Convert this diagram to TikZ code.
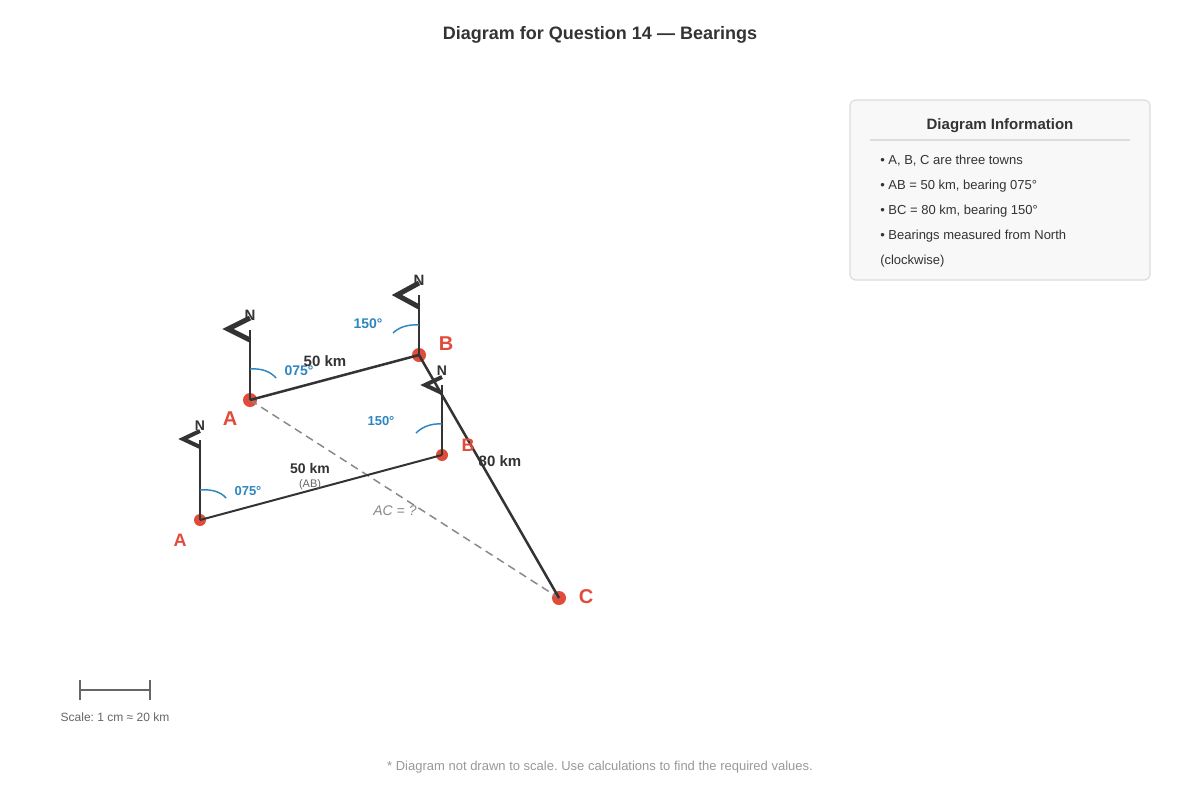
\documentclass[tikz,border=0pt]{standalone}
\usepackage{fontspec}
\setmainfont{Liberation Sans}
\frenchspacing
\definecolor{dark}{HTML}{333333}
\definecolor{ptred}{HTML}{E04B3A}
\definecolor{angblue}{HTML}{2E86C1}
\definecolor{midgray}{HTML}{888888}
\definecolor{boxfill}{HTML}{F8F8F8}
\definecolor{boxline}{HTML}{DDDDDD}
\definecolor{scalegray}{HTML}{666666}
\definecolor{footgray}{HTML}{999999}
\begin{document}
\begin{tikzpicture}[x=0.75pt,y=-0.75pt,
  town/.style={circle,fill=ptred,inner sep=0pt,minimum size=#1*0.75pt},
  townlbl/.style={text=ptred,font=\bfseries\fontsize{#1}{#1}\selectfont,inner sep=0pt},
  seg/.style={draw=dark,line width=#1*0.75pt},
  nline/.style={draw=dark,line width=#1*0.75pt},
  chev/.style={draw=dark,line width=#1*0.75pt,miter limit=10},
  nlbl/.style={text=dark,font=\bfseries\fontsize{#1}{#1}\selectfont,inner sep=0pt},
  ang/.style={draw=angblue,line width=1.1pt},
  anglbl/.style={text=angblue,font=\bfseries\fontsize{#1}{#1}\selectfont,inner sep=0pt},
  distlbl/.style={text=dark,font=\bfseries\fontsize{#1}{#1}\selectfont,inner sep=0pt},
  infotxt/.style={text=dark,font=\fontsize{9.75}{12}\selectfont,anchor=west,inner sep=0pt}
]
\useasboundingbox[fill=white] (0,0) rectangle (1200,800);

% title
\node[text=dark,font=\bfseries\fontsize{13.5}{16}\selectfont] (title) at (600,35) {Diagram for Question 14 — Bearings};

% towns
\node[town=14] (A) at (250,400) {};
\node[town=14] (B) at (419,355) {};
\node[town=14] (C) at (559,598) {};
\node[town=12] (a2) at (200,520) {};
\node[town=12] (b2) at (442,455) {};

% north line tops
\coordinate (nA) at (250,330);
\coordinate (nB) at (419,295);
\coordinate (na2) at (200,440);
\coordinate (nb2) at (442,385);

% lines
\draw[draw=midgray,line width=1.1pt,dash pattern=on 6pt off 4pt] (A.center) -- (C.center);
\draw[nline=2.5] (A.center) -- (nA);
\draw[nline=2.5] (B.center) -- (nB);
\draw[nline=2] (a2.center) -- (na2);
\draw[nline=2] (b2.center) -- (nb2);
\draw[seg=2.5] (A.center) -- (B.center);
\draw[seg=2.5] (B.center) -- (C.center);
\draw[seg=2] (a2.center) -- (b2.center);

% chevrons
\draw[chev=5] (250,318) -- (228,329) -- (250,340);
\draw[chev=5] (419,283) -- (397,295) -- (419,307);
\draw[chev=4] (200,431) -- (183,439) -- (200,447);
\draw[chev=4] (442,377) -- (425,385) -- (442,393);

% N labels
\node[nlbl=11.25] (NA) at (250,315) {N};
\node[nlbl=11.25] (NB) at (419,280) {N};
\node[nlbl=10.5] (Na2) at (200,426) {N};
\node[nlbl=10.5] (Nb2) at (442,371) {N};

% angle arcs
\draw[ang] (250,369) .. controls (262,368) and (271,372) .. (276,378);
\draw[ang] (419,325) .. controls (407,324) and (398,328) .. (393,333);
\draw[ang] (442,424) .. controls (430,423) and (421,428) .. (416,433);
\draw[ang] (200,490) .. controls (212,489) and (221,492) .. (226,498);

% angle labels
\node[anglbl=10.5] (angA) at (299,371) {075°};
\node[anglbl=10.5] (angB) at (368,324) {150°};
\node[anglbl=9.75] (angb2) at (381,421) {150°};
\node[anglbl=9.75] (anga2) at (248,491) {075°};

% distance labels
\node[distlbl=11.25] (dAB) at (325,361) {50 km};
\node[distlbl=10.5] (dab2) at (310,468) {50 km};
\node[text=scalegray,font=\fontsize{8.25}{10}\selectfont,inner sep=0pt] (ab2note) at (310,485) {(AB)};
\node[distlbl=11.25] (dBC) at (500,461) {80 km};
\node[text=midgray,font=\itshape\fontsize{10.5}{12}\selectfont,inner sep=0pt] (dAC) at (395,511) {AC = ?};

% town labels
\node[townlbl=15] (lA) at (230,419) {A};
\node[townlbl=15] (lB) at (446,344) {B};
\node[townlbl=15] (lC) at (586,597) {C};
\node[townlbl=13.5] (la2) at (180,540) {A};
\node[townlbl=13.5] (lb2) at (468,445) {B};

% info box
\draw[fill=boxfill,draw=boxline,line width=0.9pt,rounded corners=4pt] (850,100) rectangle (1150,280);
\node[text=dark,font=\bfseries\fontsize{11.25}{13}\selectfont] (infotitle) at (1000,126) {Diagram Information};
\draw[draw=boxline,line width=1.2pt] (870,140) -- (1130,140);
\node[infotxt] (i1) at (880,161) {• A, B, C are three towns};
\node[infotxt] (i2) at (880,186) {• AB = 50 km, bearing 075°};
\node[infotxt] (i3) at (880,211) {• BC = 80 km, bearing 150°};
\node[infotxt] (i4) at (880,236) {• Bearings measured from North};
\node[infotxt] (i5) at (880,261) {(clockwise)};

% scale bar
\coordinate (s1) at (80,690);
\coordinate (s2) at (150,690);
\draw[draw=scalegray,line width=1.5pt] (s1) -- (s2);
\draw[draw=scalegray,line width=1.5pt] (80,680) -- (80,700);
\draw[draw=scalegray,line width=1.5pt] (150,680) -- (150,700);
\node[text=scalegray,font=\fontsize{9}{11}\selectfont] (scale) at (115,717) {Scale: 1 cm ≈ 20 km};

% footer
\node[text=footgray,font=\fontsize{9.75}{12}\selectfont] (foot) at (600,767) {* Diagram not drawn to scale. Use calculations to find the required values.};
\end{tikzpicture}
\end{document}
